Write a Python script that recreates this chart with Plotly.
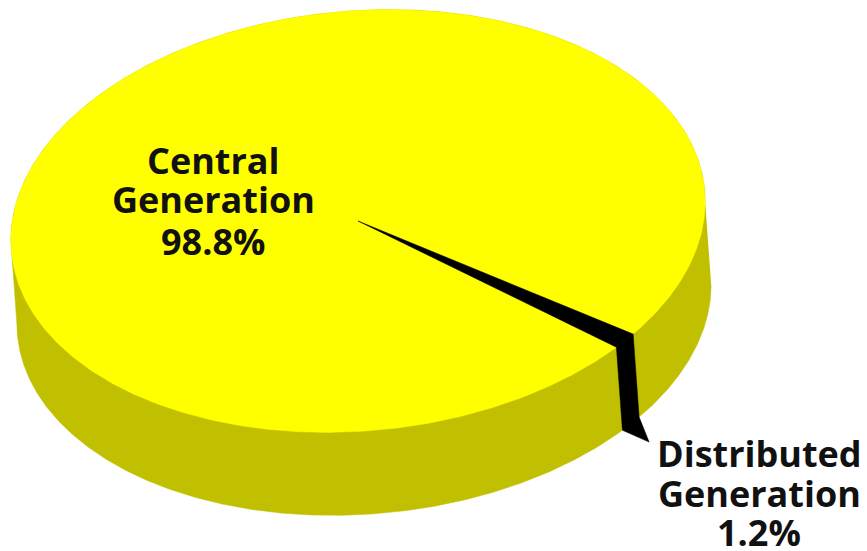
import numpy as np
import plotly.graph_objects as go

categories = ["Central Generation", "Distributed Generation"]
shares = [98.8, 1.2]
label_lines = [["Central", "Generation", "98.8%"], ["Distributed", "Generation", "1.2%"]]

# drawing geometry (pixels of the picture frame)
CX, CY, A, B, TILT, DEPTH, SHIFT = 358, 221, 348, 210, np.radians(5), 83, 6
START = 40.6
W, H = 867, 551

def rim(t_deg, dx=0.0, dy=0.0):
    t = np.radians(t_deg)
    u, v = A * np.cos(t), B * np.sin(t)
    x = CX + u * np.cos(TILT) + v * np.sin(TILT) + dx
    y = CY - u * np.sin(TILT) + v * np.cos(TILT) + dy
    return x, y

sweep = [s / sum(shares) * 360 for s in shares]
t_dist = np.linspace(START, START + sweep[1], 12)
t_cent = np.linspace(START + sweep[1], START + 360, 720)

fig = go.Figure()

def poly(x, y, color):
    fig.add_trace(go.Scatter(x=x, y=y, mode="lines", fill="toself", fillcolor=color,
                             line=dict(color=color, width=0.5), hoverinfo="skip", showlegend=False))

# outer wall: silhouette of the extruded disc
t_all = np.linspace(0, 360, 1441)
xa, ya = rim(t_all)
t_r = t_all[np.argmax(xa)]
t_l = t_all[np.argmin(xa)]
if t_l < t_r:
    t_l += 360
t_front = np.linspace(t_r, t_l, 500)
t_back = np.linspace(t_l, t_r + 360, 500)
xf, yf = rim(t_front, SHIFT, DEPTH)
xb, yb = rim(t_back)
poly(np.r_[xf, xb], np.r_[yf, yb], "#c0c000")

# top face of the large slice
xc, yc = rim(t_cent)
poly(np.r_[CX, xc, CX], np.r_[CY, yc, CY], "#ffff00")

# top face of the small slice, its wall and its pointed foot
xd, yd = rim(t_dist)
poly(np.r_[CX, xd, CX], np.r_[CY, yd, CY], "#000000")
xw, yw = rim(t_dist, SHIFT, DEPTH)
xfoot, yfoot = rim(START, SHIFT + 10, DEPTH + 25)
poly(np.r_[xd, xw[-1], xfoot, xw[0], xd[0]],
     np.r_[yd, yw[-1], yfoot, yw[0], yd[0]], "#000000")

# labels
FONT = dict(family="Open Sans", size=36, color="#111111")
anchors = [(213, [160, 199, 241]), (759, [453, 493, 532])]
for lines, (lx, lys) in zip(label_lines, anchors):
    for line, ly in zip(lines, lys):
        fig.add_annotation(x=lx, y=ly, text=f"<b>{line}</b>", showarrow=False, height=38,
                           xanchor="center", yanchor="middle", font=FONT)

fig.update_layout(width=W, height=H, margin=dict(l=0, r=0, t=0, b=0),
                  paper_bgcolor="white", plot_bgcolor="white",
                  xaxis=dict(range=[0, W], visible=False, fixedrange=True),
                  yaxis=dict(range=[H, 0], visible=False, fixedrange=True))
fig.write_html("out.html", config={"displayModeBar": False},
               post_script="document.body.style.margin='0';document.documentElement.style.overflow='hidden';")
